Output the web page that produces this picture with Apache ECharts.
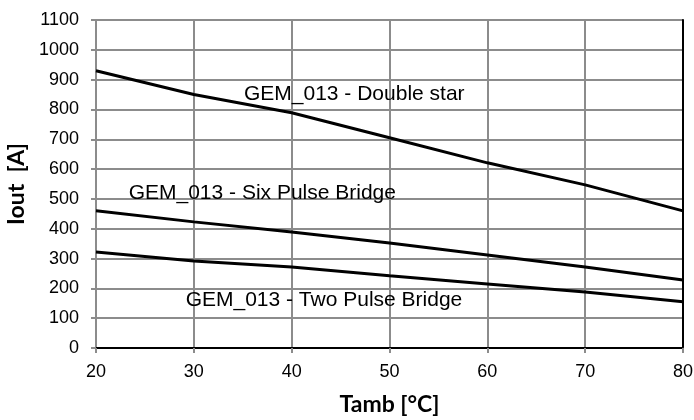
<!DOCTYPE html>
<html><head><meta charset="utf-8">
<script src="https://cdn.jsdelivr.net/npm/echarts@6/dist/echarts.min.js"></script>
<style>html,body{margin:0;padding:0;background:#fff}#c{width:694px;height:420px}</style>
</head><body><div id="c"></div>
<script>
const temps = [20, 30, 40, 50, 60, 70, 80];
const doubleStar = [930, 850, 789, 705, 621, 547, 460];
const sixPulse = [460, 423, 389, 352, 312, 272, 228];
const twoPulse = [322, 292, 272, 242, 215, 188, 155];
const names = ['GEM_013 - Double star', 'GEM_013 - Six Pulse Bridge', 'GEM_013 - Two Pulse Bridge'];
const labelPos = [[46.4, 850], [37, 520], [43.3, 161]];

const chart = echarts.init(document.getElementById('c'));
const gridColor = '#8c8c8c';
function mk(vals, i) {
  return {
    type: 'line', name: names[i], data: temps.map((t, k) => [t, vals[k]]),
    symbol: 'none', lineStyle: { color: '#000', width: 3 }, z: 5,
    markPoint: {
      symbol: 'circle', symbolSize: 0,
      label: { show: true, formatter: names[i], color: '#000', fontSize: 21, fontFamily: 'Liberation Sans, Arial', position: 'inside' },
      data: [{ coord: labelPos[i] }]
    }
  };
}
chart.setOption({
  animation: false,
  grid: { left: 96, right: 11, top: 20, bottom: 72, containLabel: false, outerBoundsMode: 'none' },
  xAxis: [{
    type: 'value', min: 20, max: 80, interval: 10,
    name: 'Tamb [°C]', nameLocation: 'middle', nameGap: 45,
    nameTextStyle: { fontSize: 23, fontWeight: 'bold', fontFamily: 'Lato, Open Sans', color: '#000' },
    axisLine: { lineStyle: { color: gridColor, width: 2 } },
    axisTick: { show: true, length: 5, lineStyle: { color: gridColor, width: 2 } },
    axisLabel: { fontSize: 18, color: '#000', fontFamily: 'Liberation Sans, Arial', margin: 15, formatter: v => String(v) },
    splitLine: { show: true, lineStyle: { color: gridColor, width: 2 } }
  }, {
    type: 'value', min: 20, max: 80, interval: 10, position: 'top',
    axisLine: { show: true, lineStyle: { color: '#000', width: 2 } },
    axisTick: { show: false }, axisLabel: { show: false }, splitLine: { show: false }
  }],
  yAxis: [{
    type: 'value', min: 0, max: 1100, interval: 100,
    name: 'Iout  [A]', nameLocation: 'middle', nameGap: 60,
    nameTextStyle: { fontSize: 23, fontWeight: 'bold', fontFamily: 'Lato, Open Sans', color: '#000' },
    axisLine: { show: true, lineStyle: { color: gridColor, width: 2 } },
    axisTick: { show: true, length: 5, lineStyle: { color: gridColor, width: 2 } },
    axisLabel: { fontSize: 18, color: '#000', fontFamily: 'Liberation Sans, Arial', margin: 17, formatter: v => String(v) },
    splitLine: { show: true, lineStyle: { color: gridColor, width: 2 } }
  }, {
    type: 'value', min: 0, max: 1100, interval: 100, position: 'right',
    axisLine: { show: true, lineStyle: { color: '#000', width: 2 } },
    axisTick: { show: false }, axisLabel: { show: false }, splitLine: { show: false }
  }],
  series: [mk(doubleStar, 0), mk(sixPulse, 1), mk(twoPulse, 2)]
});
</script></body></html>
